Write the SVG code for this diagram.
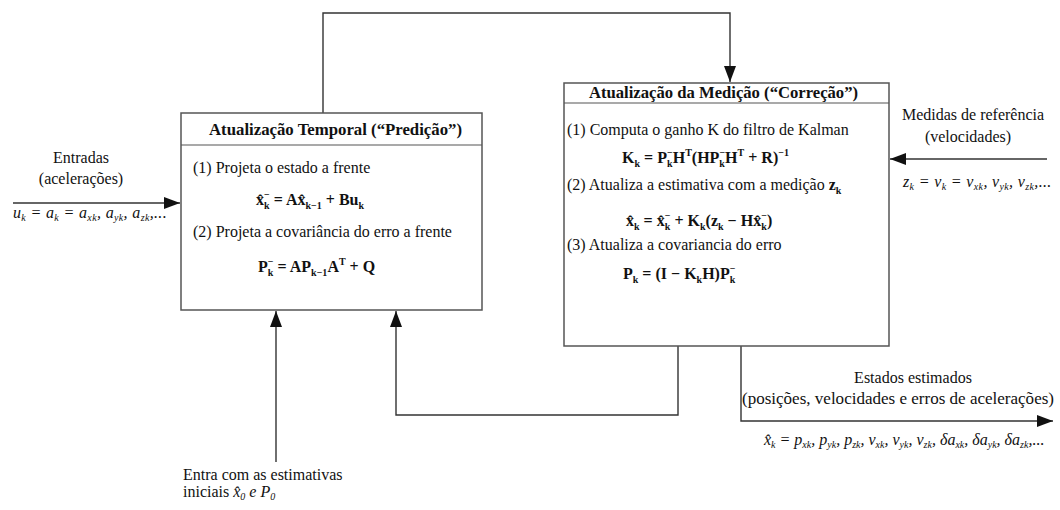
<svg xmlns="http://www.w3.org/2000/svg" width="1060" height="510" viewBox="0 0 1060 510">
<style>
.t{font-family:"Liberation Serif","Times New Roman",serif;font-size:16px;fill:#111}
.b{font-family:"Liberation Serif","Times New Roman",serif;font-size:16px;font-weight:bold;fill:#111}
.i{font-family:"Liberation Serif","Times New Roman",serif;font-size:16px;font-style:italic;fill:#111}
.ls{letter-spacing:0.35px}
.s{font-size:10px}
.box{fill:#fff;stroke:#555;stroke-width:1.5}
.sep{stroke:#555;stroke-width:1.2}
.ln{fill:none;stroke:#333;stroke-width:1.4}
</style>
<defs>
<marker id="ah" viewBox="0 0 16 12" refX="16" refY="6" markerWidth="16" markerHeight="12" markerUnits="userSpaceOnUse" orient="auto"><path d="M0,0 L16,6 L0,12 z" fill="#111"/></marker>
</defs>

<g id="connectors">
<path class="ln" d="M323,113 V13 H730 V82" marker-end="url(#ah)"/>
<path class="ln" d="M13,203 H180" marker-end="url(#ah)"/>
<path class="ln" d="M1047,159 H890" marker-end="url(#ah)"/>
<path class="ln" d="M276,462 V311" marker-end="url(#ah)"/>
<path class="ln" d="M678,346 V415 H396 V311" marker-end="url(#ah)"/>
<path class="ln" d="M741,346 V421 H1053" marker-end="url(#ah)"/>
</g>

<g id="predicao">
<rect class="box" x="181" y="113" width="301" height="197"/>
<line class="sep" x1="181" y1="145" x2="482" y2="145"/>
<text class="b" x="209" y="135" textLength="253" lengthAdjust="spacingAndGlyphs">Atualização Temporal  (“Predição”)</text>
<text class="t" x="193" y="173">(1) Projeta o estado a frente</text>
<text class="b" x="256" y="205">x̂<tspan class="s" dy="4">k</tspan><tspan class="s" dx="-5.5" dy="-11">−</tspan><tspan dy="7"> = Ax̂</tspan><tspan class="s" dy="4">k−1</tspan><tspan dy="-4"> + Bu</tspan><tspan class="s" dy="4">k</tspan></text>
<text class="t" x="193" y="237">(2) Projeta a covariância do erro a frente</text>
<text class="b" x="258" y="272">P<tspan class="s" dy="4">k</tspan><tspan class="s" dx="-5.5" dy="-11">−</tspan><tspan dy="7"> = AP</tspan><tspan class="s" dy="4">k−1</tspan><tspan dy="-4">A</tspan><tspan class="s" dy="-7">T</tspan><tspan dy="7"> + Q</tspan></text>
</g>

<g id="correcao">
<rect class="box" x="564" y="83" width="325" height="263"/>
<line class="sep" x1="564" y1="103" x2="889" y2="103"/>
<text class="b" x="589" y="98" textLength="269" lengthAdjust="spacingAndGlyphs">Atualização da Medição  (“Correção”)</text>
<text class="t" x="567" y="135">(1) Computa o ganho K do filtro de Kalman</text>
<text class="b" x="622" y="163">K<tspan class="s" dy="4">k</tspan><tspan dy="-4"> = P</tspan><tspan class="s" dy="4">k</tspan><tspan class="s" dx="-5.5" dy="-11">−</tspan><tspan dy="7">H</tspan><tspan class="s" dy="-7">T</tspan><tspan dy="7">(HP</tspan><tspan class="s" dy="4">k</tspan><tspan class="s" dx="-5.5" dy="-11">−</tspan><tspan dy="7">H</tspan><tspan class="s" dy="-7">T</tspan><tspan dy="7"> + R)</tspan><tspan class="s" dy="-7">−1</tspan></text>
<text class="t" x="567" y="190">(2) Atualiza a estimativa com a medição <tspan class="b">z</tspan><tspan class="b s" dy="4">k</tspan></text>
<text class="b" x="626" y="226">x̂<tspan class="s" dy="4">k</tspan><tspan dy="-4"> = x̂</tspan><tspan class="s" dy="4">k</tspan><tspan class="s" dx="-5.5" dy="-11">−</tspan><tspan dy="7"> + K</tspan><tspan class="s" dy="4">k</tspan><tspan dy="-4">(z</tspan><tspan class="s" dy="4">k</tspan><tspan dy="-4"> − Hx̂</tspan><tspan class="s" dy="4">k</tspan><tspan class="s" dx="-5.5" dy="-11">−</tspan><tspan dy="7">)</tspan></text>
<text class="t" x="567" y="250">(3) Atualiza a covariancia do erro</text>
<text class="b" x="623" y="279">P<tspan class="s" dy="4">k</tspan><tspan dy="-4"> = (I − K</tspan><tspan class="s" dy="4">k</tspan><tspan dy="-4">H)P</tspan><tspan class="s" dy="4">k</tspan><tspan class="s" dx="-5.5" dy="-11">−</tspan></text>
</g>

<g id="entradas">
<text class="t" x="81" y="163" text-anchor="middle">Entradas</text>
<text class="t" x="81" y="184" text-anchor="middle">(acelerações)</text>
<text class="i ls" x="13" y="218">u<tspan class="s" dy="3">k</tspan><tspan dy="-3"> = a</tspan><tspan class="s" dy="3">k</tspan><tspan dy="-3"> = a</tspan><tspan class="s" dy="3">xk</tspan><tspan dy="-3">, a</tspan><tspan class="s" dy="3">yk</tspan><tspan dy="-3">, a</tspan><tspan class="s" dy="3">zk</tspan><tspan dy="-3">,...</tspan></text>
</g>

<g id="medidas">
<text class="t" x="973" y="120" text-anchor="middle">Medidas de referência</text>
<text class="t" x="968" y="142" text-anchor="middle">(velocidades)</text>
<text class="i ls" x="903" y="187">z<tspan class="s" dy="3">k</tspan><tspan dy="-3"> = v</tspan><tspan class="s" dy="3">k</tspan><tspan dy="-3"> = v</tspan><tspan class="s" dy="3">xk</tspan><tspan dy="-3">, v</tspan><tspan class="s" dy="3">yk</tspan><tspan dy="-3">, v</tspan><tspan class="s" dy="3">zk</tspan><tspan dy="-3">,...</tspan></text>
</g>

<g id="estados">
<text class="t" x="913" y="383" text-anchor="middle">Estados estimados</text>
<text class="t" x="742" y="404" textLength="312" lengthAdjust="spacingAndGlyphs">(posições, velocidades e erros de acelerações)</text>
<text class="i" x="764" y="445">x̂<tspan class="s" dy="3">k</tspan><tspan dy="-3"> = p</tspan><tspan class="s" dy="3">xk</tspan><tspan dy="-3">, p</tspan><tspan class="s" dy="3">yk</tspan><tspan dy="-3">, p</tspan><tspan class="s" dy="3">zk</tspan><tspan dy="-3">, v</tspan><tspan class="s" dy="3">xk</tspan><tspan dy="-3">, v</tspan><tspan class="s" dy="3">yk</tspan><tspan dy="-3">, v</tspan><tspan class="s" dy="3">zk</tspan><tspan dy="-3">, δa</tspan><tspan class="s" dy="3">xk</tspan><tspan dy="-3">, δa</tspan><tspan class="s" dy="3">yk</tspan><tspan dy="-3">, δa</tspan><tspan class="s" dy="3">zk</tspan><tspan dy="-3">,...</tspan></text>
</g>

<g id="iniciais">
<text class="t" x="183" y="480">Entra com as estimativas</text>
<text class="t" x="183" y="497">iniciais  <tspan class="i">x̂</tspan><tspan class="i s" dy="3">0</tspan><tspan class="i" dy="-3"> e P</tspan><tspan class="i s" dy="3">0</tspan></text>
</g>
</svg>
